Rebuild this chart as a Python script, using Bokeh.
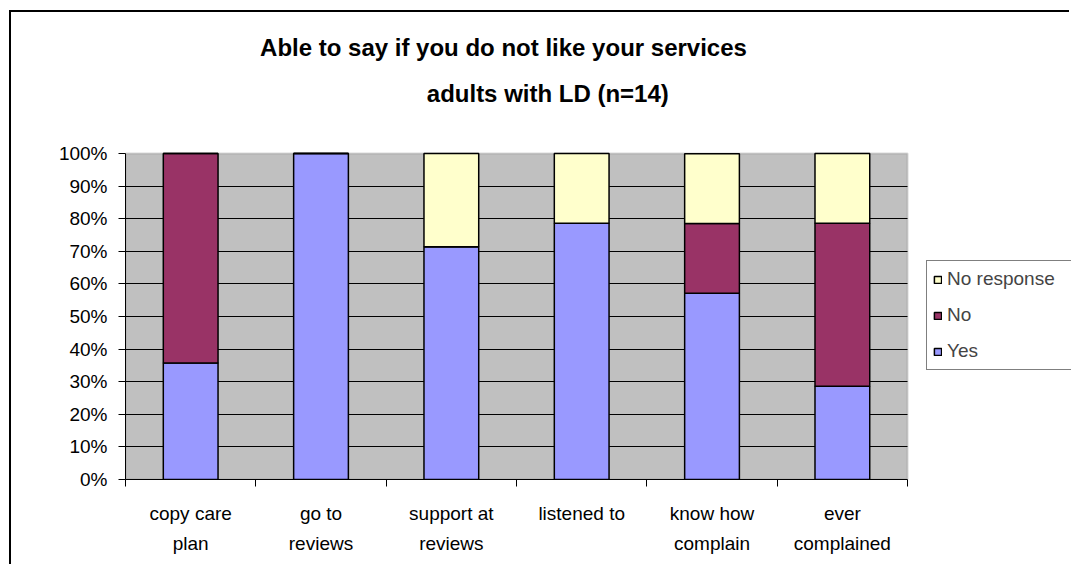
from bokeh.plotting import figure
from bokeh.models import (ColumnDataSource, Range1d, LinearAxis, FixedTicker, Legend, LegendItem,
                          Label, BoxAnnotation, PrintfTickFormatter)
from bokeh.embed import file_html
from bokeh.resources import INLINE

# ---- data (percent of respondents, n=14) ----
categories = ["copy care\nplan", "go to\nreviews", "support at\nreviews",
              "listened to", "know how\ncomplain", "ever\ncomplained"]
yes = [35.7, 100.0, 71.4, 78.6, 57.1, 28.6]
no = [64.3, 0.0, 0.0, 0.0, 21.4, 50.0]
no_response = [0.0, 0.0, 28.6, 21.4, 21.4, 21.4]
series_names = ["Yes", "No", "No response"]
series_colors = ["#9999FF", "#993366", "#FFFFCC"]
y_ticks = [0, 10, 20, 30, 40, 50, 60, 70, 80, 90, 100]
title_line1 = "Able to say if you do not like your services"
title_line2 = "adults with LD (n=14)"

FONT = "Liberation Sans"
n = len(categories)
centers = [i + 0.5 for i in range(n)]
boundaries = list(range(n + 1))
y_max = y_ticks[-1]

source = ColumnDataSource(dict(x=centers, yes=yes, no=no, nr=no_response))

# The frame extends right and up so that title and legend can sit inside it;
# the grey plot area is bounded to the category / percentage span.
p = figure(width=1060, height=554, output_backend="svg", toolbar_location=None,
           x_range=Range1d(0, 7.258), y_range=Range1d(0, 143.25),
           x_axis_location=None, y_axis_location=None,
           min_border_left=114, min_border_right=0, min_border_top=0, min_border_bottom=87,
           background_fill_color="white", border_fill_color="white",
           outline_line_color=None)
p.styles = {"border-top": "2px solid black", "border-left": "2px solid black",
            "margin-left": "9px", "margin-top": "10px"}

# grey plot area
p.add_layout(BoxAnnotation(left=0, right=n, bottom=0, top=y_max, level="image",
                           fill_color="#C0C0C0", fill_alpha=1,
                           line_color="#808080", line_width=2))

renderers = p.vbar_stack(["yes", "no", "nr"], x="x", width=0.42, source=source,
                         color=series_colors, line_color="black", line_width=1.5)

# grid
p.xgrid.visible = False
p.ygrid.ticker = FixedTicker(ticks=y_ticks[1:-1])
p.ygrid.grid_line_color = "black"
p.ygrid.grid_line_width = 1
p.ygrid.cross_bounds = (0, n)

# y axis
yax = LinearAxis(ticker=FixedTicker(ticks=y_ticks), formatter=PrintfTickFormatter(format="%d%%"),
                 bounds=(0, y_max))
yax.axis_line_color = "black"
yax.major_tick_out = 7
yax.major_tick_in = 0
yax.minor_tick_line_color = None
yax.major_label_standoff = 11
yax.major_label_text_font = FONT
yax.major_label_text_font_size = "19px"
yax.major_label_text_color = "black"
p.add_layout(yax, "left")

# x axis: labels at category centres, separator ticks at boundaries
xax = LinearAxis(ticker=FixedTicker(ticks=centers, minor_ticks=boundaries), bounds=(0, n))
xax.axis_line_color = "black"
xax.major_tick_line_color = None
xax.major_tick_out = 0
xax.major_tick_in = 0
xax.minor_tick_line_color = "black"
xax.minor_tick_out = 7
xax.minor_tick_in = 0
xax.major_label_standoff = 16
xax.major_label_orientation = "horizontal"
xax.major_label_overrides = {c: lab for c, lab in zip(centers, categories)}
xax.major_label_text_font = FONT
xax.major_label_text_font_size = "19px"
xax.major_label_text_color = "black"
xax.major_label_text_line_height = 1.45
p.add_layout(xax, "below")

# legend
legend = Legend(items=[LegendItem(label=series_names[i], renderers=[renderers[i]]) for i in (2, 1, 0)],
                location=(801, 109), orientation="vertical",
                glyph_width=9, glyph_height=9, label_standoff=5, label_width=170,
                label_height=24, spacing=12, padding=6, margin=0,
                label_text_font=FONT, label_text_font_size="19px",
                border_line_color="black", border_line_width=1,
                background_fill_color="white", background_fill_alpha=1)
p.add_layout(legend, "center")

# title (two lines)
p.add_layout(Label(x=2.90, y=132.5, text=title_line1, text_align="center", text_baseline="alphabetic",
                   text_font=FONT, text_font_size="24px", text_font_style="bold", text_color="black"))
p.add_layout(Label(x=3.24, y=118.4, text=title_line2, text_align="center", text_baseline="alphabetic",
                   text_font=FONT, text_font_size="24px", text_font_style="bold", text_color="black"))

open("out.html", "w").write(file_html(p, INLINE))
